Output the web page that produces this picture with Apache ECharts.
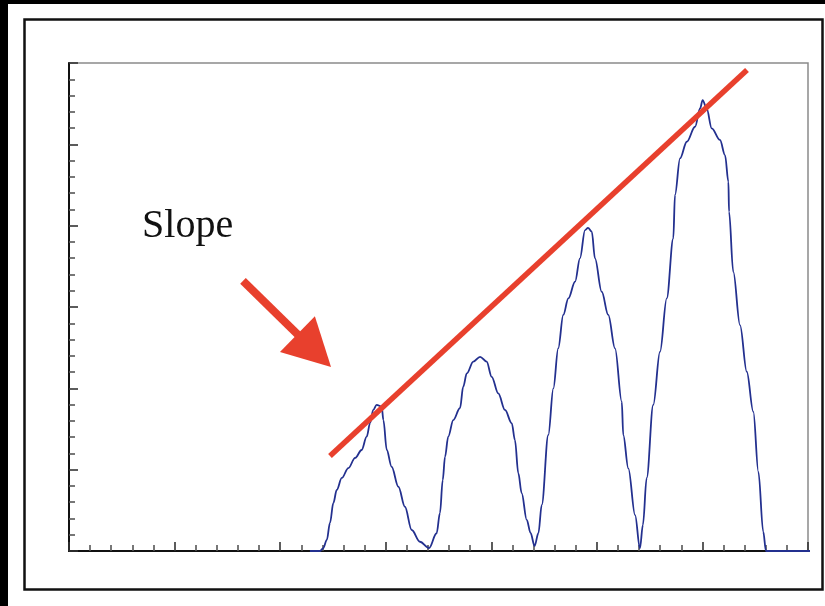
<!DOCTYPE html>
<html>
<head>
<meta charset="utf-8">
<script src="https://cdn.jsdelivr.net/npm/echarts@6/dist/echarts.min.js"></script>
<style>
  html, body { margin: 0; padding: 0; background: #000; }
  #chart { width: 825px; height: 606px; }
</style>
</head>
<body>
<div id="chart"></div>
<script>
// Signal trace: four peaks of increasing height
const curveX = [11.41, 11.89, 12.04, 12.21, 12.36, 12.52, 12.68, 12.92, 13.23, 13.55, 13.86, 14.10, 14.26, 14.41, 14.57, 14.81, 14.89, 15.05, 15.28, 15.60, 15.91, 16.23, 16.62, 17.05,
                17.41, 17.57, 17.70, 17.81, 17.96, 18.20, 18.52, 18.67, 18.84, 19.15, 19.47, 19.78, 20.02, 20.33, 20.65, 20.97, 21.12, 21.28, 21.44, 21.68, 21.86, 22.05,
                22.23, 22.39, 22.70, 22.94, 23.17, 23.41, 23.65, 23.97, 24.20, 24.44, 24.58, 24.76, 24.91, 25.23, 25.54, 25.86, 26.18, 26.25, 26.49, 26.81, 27.04,
                27.18, 27.36, 27.67, 27.99, 28.31, 28.62, 28.70, 28.94, 29.26, 29.65, 29.89, 30.01, 30.20, 30.44, 30.83, 31.07, 31.23, 31.26, 31.46, 31.78, 32.10, 32.41, 32.65, 32.88, 33.01, 35.47];
const curveY = [0, 0, 0.17, 0.68, 1.72, 2.95, 3.75, 4.49, 5.10, 5.72, 6.21, 7.03, 7.87, 8.67, 8.98, 8.87, 8.05, 6.21, 5.18, 3.95, 2.72, 1.29, 0.57, 0.18,
                1.09, 2.34, 4.36, 5.80, 7.03, 8.05, 8.79, 10.10, 10.92, 11.64, 11.94, 11.64, 10.71, 9.69, 8.67, 7.85, 6.82, 4.78, 3.55, 1.91, 1.11, 0.31,
                1.09, 2.83, 7.13, 10.00, 12.46, 14.51, 15.53, 16.56, 17.99, 19.73, 19.86, 19.63, 17.99, 15.94, 14.51, 12.46, 9.18, 7.13, 5.08, 2.21, 0.17,
                1.60, 4.49, 8.98, 12.25, 15.53, 19.22, 21.89, 24.14, 25.16, 26.08, 27.21, 27.72, 27.21, 25.98, 25.27, 24.34, 22.70, 20.86, 17.17, 13.89, 11.02, 8.56, 4.87, 1.19, 0, 0];

// Straight slope line touching the peaks
const slopeX = [12.36, 32.11];
const slopeY = [5.84, 29.57];

// Annotation: arrow (tail -> tip) and its label
const arrowX = [8.24, 12.41];
const arrowY = [16.60, 11.31];
const labelText = 'Slope';
const labelPos = [3.46, 19.43];

const zip = (xs, ys) => xs.map((x, i) => [x, ys[i]]);

const chart = echarts.init(document.getElementById('chart'));

const axisCommon = {
  type: 'value',
  interval: 5,
  axisLine: { show: true, onZero: false, lineStyle: { color: '#111', width: 2 } },
  axisTick: { show: true, inside: true, length: 9, lineStyle: { color: '#333', width: 1.6 } },
  minorTick: { show: true, splitNumber: 5, length: 6, lineStyle: { color: '#555', width: 1.6 } },
  axisLabel: { show: false },
  splitLine: { show: false },
  minorSplitLine: { show: false }
};

chart.setOption({
  backgroundColor: '#000',
  animation: false,
  grid: {
    left: 69, right: 17, top: 63, bottom: 55,
    show: true, borderColor: '#8a8a8a', borderWidth: 1.5, backgroundColor: 'transparent'
  },
  xAxis: Object.assign({}, axisCommon, { min: 0, max: 35 }),
  yAxis: Object.assign({}, axisCommon, { min: 0, max: 30 }),
  series: [
    {
      type: 'line',
      data: zip(curveX, curveY),
      showSymbol: false,
      symbol: 'none',
      clip: false,
      smooth: 0.35,
      smoothMonotone: 'x',
      lineStyle: { color: '#23308f', width: 1.8 },
      z: 3
    },
    {
      type: 'line',
      data: zip(slopeX, slopeY),
      symbol: 'none',
      lineStyle: { color: '#e8402d', width: 5.5, cap: 'butt' },
      z: 4
    }
  ]
});

// Page frame plus the arrow and label, placed from data coordinates
const toPx = (p) => chart.convertToPixel({ gridIndex: 0 }, p);
const tail = toPx([arrowX[0], arrowY[0]]);
const tip = toPx([arrowX[1], arrowY[1]]);
const dx = tip[0] - tail[0], dy = tip[1] - tail[1];
const len = Math.sqrt(dx * dx + dy * dy);
const ux = dx / len, uy = dy / len;
const headLen = 47, headHalf = 25;
const base = [tip[0] - ux * headLen, tip[1] - uy * headLen];
const c1 = [base[0] - uy * headHalf, base[1] + ux * headHalf];
const c2 = [base[0] + uy * headHalf, base[1] - ux * headHalf];
const lbl = toPx(labelPos);

chart.setOption({
  graphic: [
    { type: 'rect', z: -10, silent: true, shape: { x: 8, y: 4, width: 830, height: 620 }, style: { fill: '#fff' } },
    { type: 'rect', z: 100, silent: true, shape: { x: 24.5, y: 19.5, width: 798, height: 570 }, style: { fill: null, stroke: '#111', lineWidth: 2.5 } },
    { type: 'line', z: 100, silent: true, shape: { x1: tail[0], y1: tail[1], x2: base[0] + ux * 2, y2: base[1] + uy * 2 }, style: { stroke: '#e8402d', lineWidth: 8, lineCap: 'butt' } },
    { type: 'polygon', z: 100, silent: true, shape: { points: [tip, c1, c2] }, style: { fill: '#e8402d' } },
    { type: 'text', z: 100, silent: true, x: lbl[0], y: lbl[1] + 12, style: { text: labelText, font: '40px "Liberation Serif", "Times New Roman", serif', fill: '#111', align: 'left', verticalAlign: 'bottom' } }
  ]
});
</script>
</body>
</html>
